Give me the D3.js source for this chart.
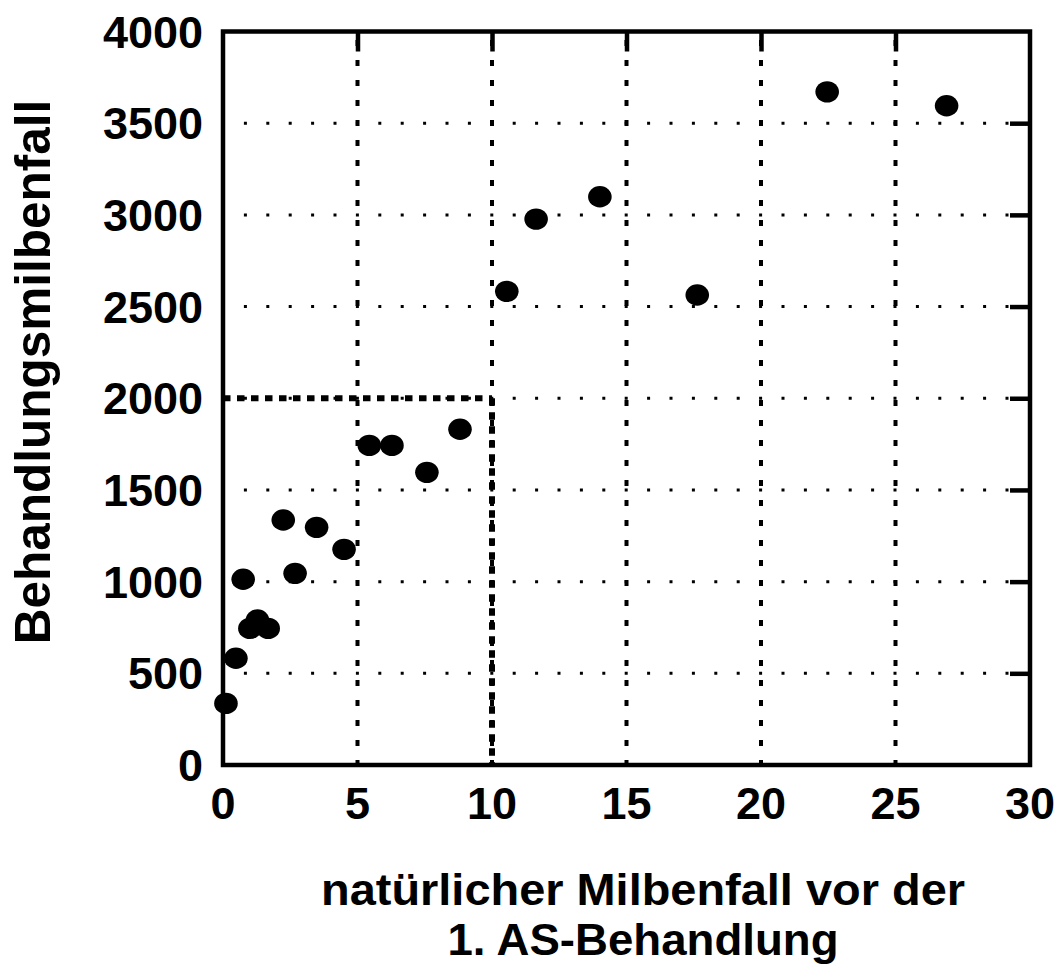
<!DOCTYPE html>
<html>
<head>
<meta charset="utf-8">
<script src="https://cdn.jsdelivr.net/npm/d3@7"></script>
<style>
  body { margin: 0; background: #fff; }
  text { font-family: "Liberation Sans", Arial, sans-serif; font-weight: bold; fill: #000; }
</style>
</head>
<body>
<script>
// natural mite fall before 1st treatment (x) vs. treatment mite fall (y)
const naturalFall = [0.11, 0.48, 0.75, 1.0, 1.28, 1.68, 2.24, 2.68, 3.48, 4.5,
  5.44, 6.28, 7.58, 8.81, 10.55, 11.64, 14.01, 17.63, 22.46, 26.9];
const treatmentFall = [336, 582, 1013, 745, 791, 745, 1336, 1045, 1296, 1176,
  1743, 1743, 1596, 1831, 2583, 2977, 3099, 2563, 3671, 3595];
const xTicks = [0, 5, 10, 15, 20, 25, 30];
const yTicks = [0, 500, 1000, 1500, 2000, 2500, 3000, 3500, 4000];
const xTitleLines = ['natürlicher Milbenfall vor der', '1. AS-Behandlung'];
const yTitle = 'Behandlungsmilbenfall';

const width = 1057;
const height = 967;
const plot = { left: 223, right: 1030, top: 31.5, bottom: 765 };

const svg = d3.select('body').append('svg')
  .attr('width', width)
  .attr('height', height);

const xScale = d3.scaleLinear().domain([0, 30]).range([plot.left, plot.right]);
const yScale = d3.scaleLinear().domain([0, 4000]).range([plot.bottom, plot.top]);

// vertical grid (dashed)
svg.append('g').selectAll('line')
  .data(xTicks.slice(1, -1))
  .enter().append('line')
  .attr('x1', d => xScale(d)).attr('x2', d => xScale(d))
  .attr('y1', plot.bottom).attr('y2', plot.top)
  .attr('stroke', '#000')
  .attr('stroke-width', 4)
  .attr('stroke-dasharray', '6,14')
  .attr('stroke-dashoffset', 1);

// horizontal grid (dotted)
svg.append('g').selectAll('line')
  .data(yTicks.slice(1, -1))
  .enter().append('line')
  .attr('x1', plot.left).attr('x2', plot.right)
  .attr('y1', d => yScale(d)).attr('y2', d => yScale(d))
  .attr('stroke', '#000')
  .attr('stroke-width', 3)
  .attr('stroke-dasharray', '3,19.4')
  .attr('stroke-dashoffset', 1.5);

// the 10 / 2000 threshold lines
const threshold = svg.append('g')
  .attr('stroke', '#000')
  .attr('stroke-width', 6)
  .attr('stroke-dasharray', '7.5,6.5');
threshold.append('line')
  .attr('x1', xScale(0)).attr('x2', xScale(10))
  .attr('y1', yScale(2000)).attr('y2', yScale(2000));
threshold.append('line')
  .attr('x1', xScale(10)).attr('x2', xScale(10))
  .attr('y1', yScale(2000)).attr('y2', yScale(0));

// inward ticks on top and right
const xAxisTop = d3.axisBottom(xScale).tickValues(xTicks.slice(1, -1)).tickSize(20).tickFormat('');
const yAxisRight = d3.axisLeft(yScale).tickValues(yTicks.slice(1, -1)).tickSize(20).tickFormat('');
const topG = svg.append('g').attr('transform', `translate(0,${plot.top})`).call(xAxisTop);
const rightG = svg.append('g').attr('transform', `translate(${plot.right},0)`).call(yAxisRight);
[topG, rightG].forEach(g => {
  g.select('.domain').remove();
  g.selectAll('line').attr('stroke', '#000').attr('stroke-width', 4.5);
});

// frame
svg.append('rect')
  .attr('x', plot.left).attr('y', plot.top)
  .attr('width', plot.right - plot.left).attr('height', plot.bottom - plot.top)
  .attr('fill', 'none')
  .attr('stroke', '#000')
  .attr('stroke-width', 4.5);

// tick labels
svg.append('g').selectAll('text')
  .data(xTicks)
  .enter().append('text')
  .attr('x', d => xScale(d))
  .attr('y', 819)
  .attr('text-anchor', 'middle')
  .style('font-size', '45px')
  .text(d => d);

svg.append('g').selectAll('text')
  .data(yTicks)
  .enter().append('text')
  .attr('x', 203)
  .attr('y', d => yScale(d) + 16)
  .attr('text-anchor', 'end')
  .style('font-size', '45px')
  .text(d => d);

// axis titles (the original lettering is wide, so stretch to its width)
const xTitleWidths = [644, 391];
svg.append('g').selectAll('text')
  .data(xTitleLines)
  .enter().append('text')
  .attr('x', 643)
  .attr('y', (d, i) => 905 + i * 50)
  .attr('text-anchor', 'middle')
  .attr('textLength', (d, i) => xTitleWidths[i])
  .attr('lengthAdjust', 'spacingAndGlyphs')
  .style('font-size', '44px')
  .text(d => d);

svg.append('text')
  .attr('transform', 'translate(50,372) rotate(-90)')
  .attr('text-anchor', 'middle')
  .style('font-size', '49.5px')
  .text(yTitle);

// points
svg.append('g').selectAll('ellipse')
  .data(naturalFall)
  .enter().append('ellipse')
  .attr('cx', d => xScale(d))
  .attr('cy', (d, i) => yScale(treatmentFall[i]))
  .attr('rx', 11.8)
  .attr('ry', 10.7)
  .attr('fill', '#000');
</script>
</body>
</html>
